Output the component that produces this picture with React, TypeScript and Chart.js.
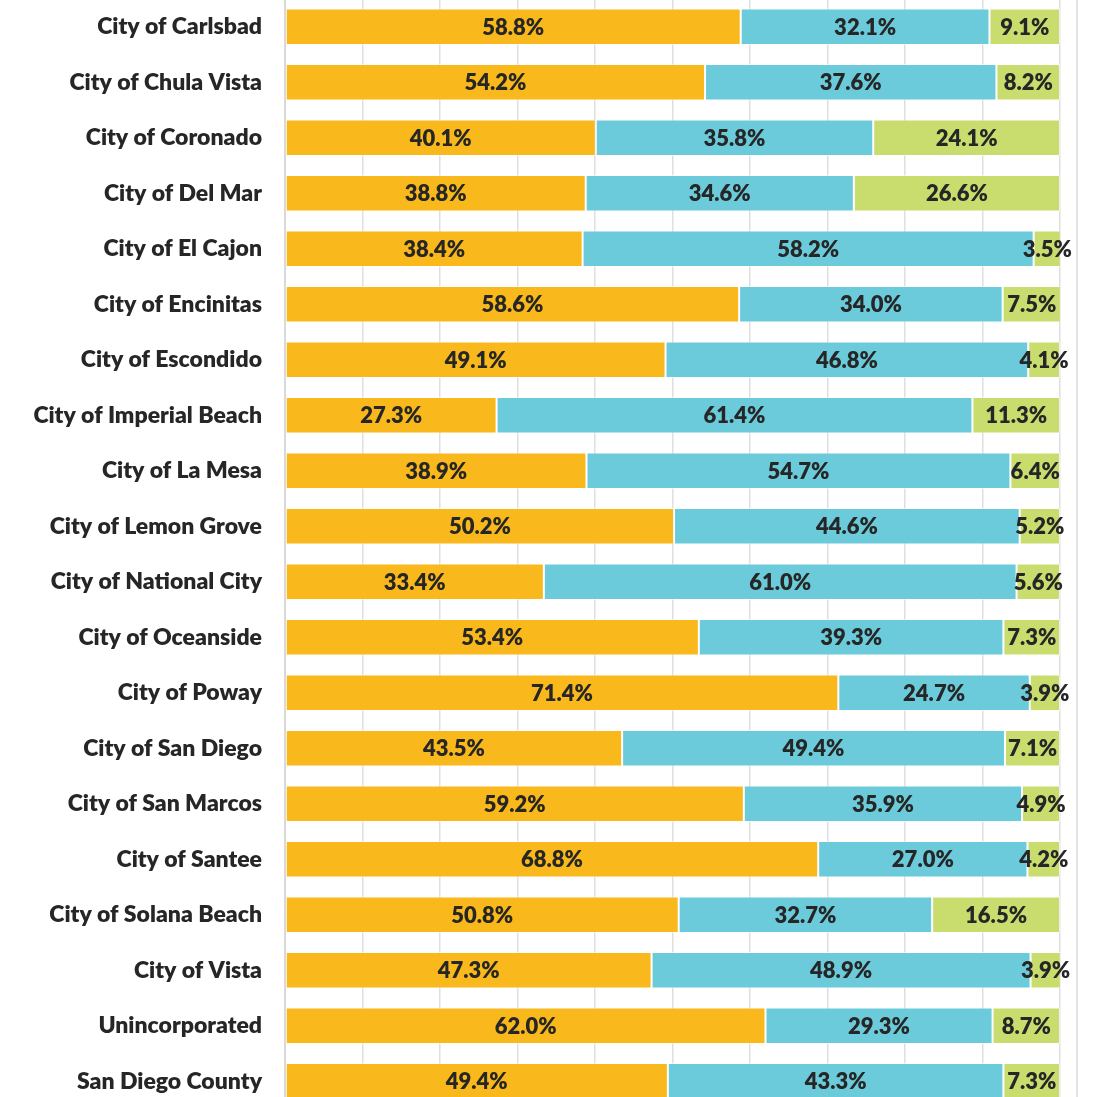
import React, { useEffect, useRef } from "react";
import { Chart, registerables } from "chart.js";

Chart.register(...registerables);

const categories = [
  "City of Carlsbad",
  "City of Chula Vista",
  "City of Coronado",
  "City of Del Mar",
  "City of El Cajon",
  "City of Encinitas",
  "City of Escondido",
  "City of Imperial Beach",
  "City of La Mesa",
  "City of Lemon Grove",
  "City of National City",
  "City of Oceanside",
  "City of Poway",
  "City of San Diego",
  "City of San Marcos",
  "City of Santee",
  "City of Solana Beach",
  "City of Vista",
  "Unincorporated",
  "San Diego County",
];

const seriesA = [58.8, 54.2, 40.1, 38.8, 38.4, 58.6, 49.1, 27.3, 38.9, 50.2, 33.4, 53.4, 71.4, 43.5, 59.2, 68.8, 50.8, 47.3, 62.0, 49.4];
const seriesB = [32.1, 37.6, 35.8, 34.6, 58.2, 34.0, 46.8, 61.4, 54.7, 44.6, 61.0, 39.3, 24.7, 49.4, 35.9, 27.0, 32.7, 48.9, 29.3, 43.3];
const seriesC = [9.1, 8.2, 24.1, 26.6, 3.5, 7.5, 4.1, 11.3, 6.4, 5.2, 5.6, 7.3, 3.9, 7.1, 4.9, 4.2, 16.5, 3.9, 8.7, 7.3];

const COLORS = ["#F9B81B", "#6BCBDB", "#C9DD6E"];
const TEXT = "#262626";
const FONT = "Lato, 'Open Sans', sans-serif";

const segmentLabels = {
  id: "segmentLabels",
  afterDatasetsDraw(chart: any) {
    const ctx = chart.ctx;
    ctx.save();
    ctx.font = `800 22px ${FONT}`;
    ctx.fillStyle = TEXT;
    ctx.textAlign = "center";
    ctx.textBaseline = "middle";
    chart.data.datasets.forEach((ds: any, di: number) => {
      const meta = chart.getDatasetMeta(di);
      meta.data.forEach((el: any, i: number) => {
        const v = ds.data[i];
        const p = el.getProps(["x", "y", "base"], true);
        const cx = (p.x + p.base) / 2;
        ctx.fillText(v.toFixed(1) + "%", cx, p.y + 1);
      });
    });
    ctx.restore();
  },
};

export default function App() {
  const ref = useRef<HTMLCanvasElement>(null);

  useEffect(() => {
    if (!ref.current) return;
    const chart = new Chart(ref.current, {
      type: "bar",
      data: {
        labels: categories,
        datasets: [seriesA, seriesB, seriesC].map((d, i) => ({
          data: d,
          backgroundColor: COLORS[i],
          borderColor: "rgba(255,255,255,0.5)",
          borderWidth: 1,
          borderSkipped: false,
          categoryPercentage: 1,
          barPercentage: 0.656,
        })),
      },
      options: {
        indexAxis: "y",
        responsive: false,
        animation: false,
        devicePixelRatio: 1,
        layout: { padding: { left: 0, right: 54, top: 0, bottom: 0 } },
        plugins: { legend: { display: false }, tooltip: { enabled: false } },
        scales: {
          x: {
            stacked: true,
            min: 0,
            max: 100,
            ticks: { display: false, stepSize: 10 },
            grid: { color: "#DFDFDF", lineWidth: 1.5, drawTicks: false },
            border: { display: false },
            afterFit: (s: any) => {
              s.height = 0;
              s.paddingLeft = 0;
              s.paddingRight = 0;
            },
          },
          y: {
            stacked: true,
            grid: { display: false, drawTicks: false },
            border: { display: true, color: "#D9D9D9", width: 2 },
            ticks: {
              color: TEXT,
              padding: 23,
              font: { family: FONT, size: 23, weight: 800 },
            },
            afterFit: (s: any) => {
              s.width = 285;
              s.paddingTop = 0;
              s.paddingBottom = 0;
            },
          },
        },
      },
      plugins: [segmentLabels],
    });
    return () => chart.destroy();
  }, []);

  return (
    <div
      style={{
        position: "fixed",
        left: 0,
        top: 0,
        width: 1114,
        height: 1097,
        overflow: "hidden",
        background: "#fff",
      }}
    >
      <canvas
        ref={ref}
        width={1114}
        height={1110}
        style={{ position: "absolute", left: 0, top: -1, width: 1114, height: 1110 }}
      />
      <div
        style={{
          position: "absolute",
          left: 1076,
          top: 0,
          width: 2,
          height: 1097,
          background: "#E3E3E3",
        }}
      />
    </div>
  );
}
